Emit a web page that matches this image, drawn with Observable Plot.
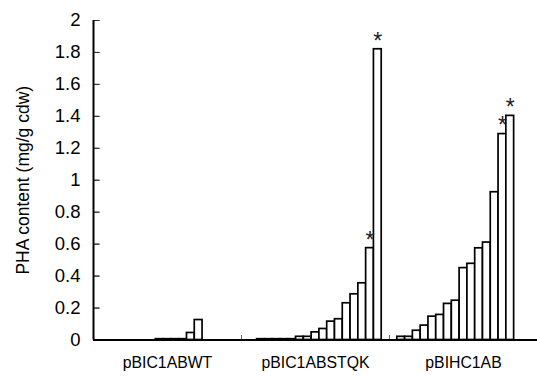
<!DOCTYPE html>
<html><head><meta charset="utf-8">
<script src="https://cdn.jsdelivr.net/npm/d3@7"></script>
<script src="https://cdn.jsdelivr.net/npm/@observablehq/plot@0.6"></script>
<style>html,body{margin:0;padding:0;background:#fff}#chart svg{display:block}</style>
</head><body><div id="chart"></div>
<script>
// Categories (strains) and their bar values (mg/g cdw), 19 slots per group, sorted as in the figure
const groups = ["pBIC1ABWT", "pBIC1ABSTQK", "pBIHC1AB"];
const valuesWT   = [0, 0, 0, 0, 0, 0, 0, 0, 0.005, 0.005, 0.005, 0.005, 0.044, 0.125, 0, 0, 0, 0, 0];
const valuesSTQK = [0, 0, 0.005, 0.005, 0.005, 0.005, 0.005, 0.02, 0.02, 0.048, 0.069, 0.115, 0.13, 0.23, 0.286, 0.355, 0.575, 1.82, 0];
const valuesHC   = [0, 0.02, 0.02, 0.058, 0.09, 0.146, 0.157, 0.226, 0.246, 0.45, 0.477, 0.574, 0.61, 0.925, 1.289, 1.403, 0, 0, 0];
// bars marked with an asterisk: [group, slot number within group]
const starred = [["pBIC1ABSTQK", 17], ["pBIC1ABSTQK", 18], ["pBIHC1AB", 15], ["pBIHC1AB", 16]];
const yTicks = [0, 0.2, 0.4, 0.6, 0.8, 1, 1.2, 1.4, 1.6, 1.8, 2];
const yTitle = "PHA content (mg/g cdw)";
const slotsPerGroup = 19;

const series = [valuesWT, valuesSTQK, valuesHC];
const rows = [];
series.forEach((vals, gi) => vals.forEach((v, i) =>
  rows.push({group: groups[gi], j: i + 1, slot: gi * slotsPerGroup + i + 1, value: v})));
const bars = rows.filter(d => d.value > 0);
const starRows = starred.map(([g, j]) => rows.find(d => d.group === g && d.j === j));
const groupRows = groups.map((g, gi) => ({group: g, center: gi * slotsPerGroup + (slotsPerGroup + 1) / 2}));
const bounds = groups.slice(1).map((g, gi) => (gi + 1) * slotsPerGroup + 0.5);
const xMin = 0.5, xMax = groups.length * slotsPerGroup + 0.5;
const font = "'Liberation Sans', Arial, Helvetica, sans-serif";

const chart = Plot.plot({
  width: 537, height: 377,
  marginLeft: 93, marginRight: 0, marginTop: 20, marginBottom: 37.5,
  style: {fontFamily: font, background: "#fff", color: "#000", overflow: "visible"},
  x: {type: "linear", domain: [xMin, xMax], axis: null},
  y: {domain: [0, 2], label: null},
  marks: [
    Plot.rect(bars, {x1: d => d.slot - 0.5, x2: d => d.slot + 0.5, y1: 0, y2: "value",
      fill: "#fff", stroke: "#000", strokeWidth: 1.7}),
    Plot.text(starRows, {x: "slot", y: "value", text: () => "*", fontSize: 23, dy: -8, fill: "#222"}),
    // inward y tick marks
    Plot.vector(yTicks, {x: xMin, y: d => d, length: 6, rotate: 90, anchor: "start",
      shape: "spike", r: 0, stroke: "#333", fill: "none", strokeWidth: 1}),
    // y tick labels
    Plot.axisY(yTicks, {tickSize: 0, tickPadding: 13, fontSize: 18.5, tickFormat: d => String(d), label: null}),
    // group boundary ticks, pointing up from the baseline
    Plot.vector(bounds, {x: d => d, y: 0, length: 5, rotate: 0, anchor: "start",
      shape: "spike", r: 0, stroke: "#666", fill: "none", strokeWidth: 1}),
    Plot.text(groupRows, {x: "center", frameAnchor: "bottom", dy: 28, text: "group", fontSize: 15.8}),
    Plot.text([yTitle], {frameAnchor: "left", textAnchor: "middle", rotate: -90, dx: -70, text: d => d, fontSize: 17.5}),
    Plot.ruleX([xMin], {stroke: "#000", strokeWidth: 2}),
    Plot.ruleY([0], {stroke: "#000", strokeWidth: 2})
  ]
});
document.getElementById("chart").appendChild(chart);
</script>
</body></html>
